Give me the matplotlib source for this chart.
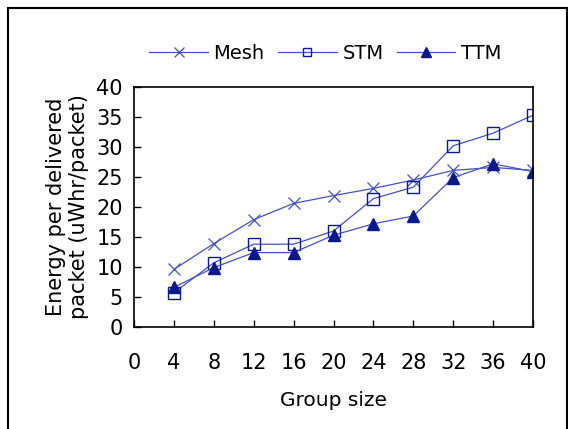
import matplotlib.pyplot as plt
from matplotlib.patches import Rectangle

group_size = [4, 8, 12, 16, 20, 24, 28, 32, 36, 40]
mesh = [9.6, 13.9, 17.9, 20.6, 21.9, 23.1, 24.5, 26.1, 26.6, 26.1]
stm = [5.7, 10.7, 13.8, 13.8, 16.0, 21.4, 23.3, 30.2, 32.3, 35.3]
ttm = [6.6, 9.9, 12.4, 12.4, 15.3, 17.2, 18.5, 24.9, 27.2, 25.9]

LINE = "#4452c0"
MARK = "#0a1a8c"

plt.rcParams["font.family"] = ["DejaVu Sans"]

fig = plt.figure(figsize=(5.68, 4.29), dpi=100)
ax = fig.add_axes([134 / 568, 1 - 327 / 429, (533 - 134) / 568, (327 - 87) / 429])

ax.plot(group_size, mesh, color=LINE, lw=0.9, marker="x", ms=9, mew=0.9,
        mec=LINE, label="Mesh")
ax.plot(group_size, stm, color=LINE, lw=0.9, marker="s", ms=8, mew=1.0,
        mfc="none", mec=MARK, label="STM")
ax.plot(group_size, ttm, color=LINE, lw=0.9, marker="^", ms=9,
        mfc=MARK, mec=MARK, label="TTM")

ax.set_xlim(0, 40)
ax.set_ylim(0, 40)
ax.set_xticks(range(0, 41, 4))
ax.set_yticks(range(0, 41, 5))
ax.tick_params(direction="in", length=5, width=1, labelsize=15)
ax.tick_params(axis="x", pad=19)
ax.tick_params(axis="y", pad=8)
for s in ax.spines.values():
    s.set_linewidth(1.2)

ax.set_xlabel("Group size", fontsize=14.5, labelpad=13)
ax.set_ylabel("Energy per delivered\npacket (uWhr/packet)", fontsize=15,
              labelpad=5, linespacing=1.2)

ax.legend(loc="center", bbox_to_anchor=(0.48, 1.14), ncol=3, frameon=False,
          fontsize=14, handlelength=3.0, handletextpad=0.3, columnspacing=0.7,
          markerscale=0.8, borderaxespad=0)

fig.patches.append(Rectangle((8 / 568, -0.05), (567 - 8) / 568, 1 - 8 / 429 + 0.05,
                             transform=fig.transFigure, fill=False, lw=1.5,
                             ec="black"))

fig.savefig("out.png", dpi=100)
